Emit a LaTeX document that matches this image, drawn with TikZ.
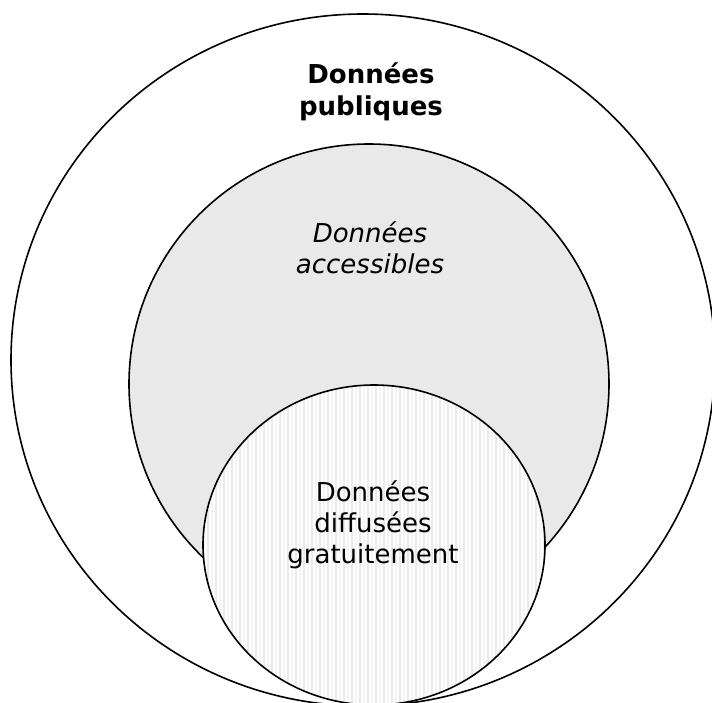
\documentclass[tikz,border=0pt]{standalone}
\usepackage{fontspec}
\setmainfont{DejaVu Sans}
\definecolor{midgray}{RGB}{233,233,233}
\definecolor{stripeA}{RGB}{234,234,234}
\definecolor{stripeB}{RGB}{245,245,245}
\begin{document}
\begin{tikzpicture}[x=1pt,y=-1pt,
  ring/.style={line width=1.6pt, draw=black},
  lbl/.style={anchor=base, inner sep=0pt, font=\fontsize{26}{31}\selectfont}]
\useasboundingbox (0,0) rectangle (712,702);
\clip (0,0) rectangle (712,702);
\fill[white] (0,0) rectangle (712,702);
% outer
\draw[ring, fill=white] (363,360) ellipse [x radius=352, y radius=346];
% middle
\draw[ring, fill=midgray] (369,384) ellipse [x radius=240, y radius=240];
% inner
\begin{scope}
  \clip (374,545) ellipse [x radius=171, y radius=160];
  \fill[white] (195,380) rectangle (555,710);
  \foreach \i in {0,...,45} {
    \fill[stripeA] (199+8*\i,380) rectangle ++(2,330);
    \fill[stripeB] (203+8*\i,380) rectangle ++(1.5,330);
  }
\end{scope}
\draw[ring] (374,545) ellipse [x radius=171, y radius=160];
% labels
\node[lbl, font=\fontsize{26}{31}\selectfont\bfseries] (p1) at (371,83) {Données};
\node[lbl, font=\fontsize{26}{31}\selectfont\bfseries] (p2) at (371,115) {publiques};
\node[lbl, font=\fontsize{26}{31}\selectfont\itshape] (a1) at (370,242) {Données};
\node[lbl, font=\fontsize{26}{31}\selectfont\itshape] (a2) at (370,273) {accessibles};
\node[lbl] (g1) at (373,501) {Données};
\node[lbl] (g2) at (373,532) {diffusées};
\node[lbl] (g3) at (373,563) {gratuitement};
\end{tikzpicture}
\end{document}
